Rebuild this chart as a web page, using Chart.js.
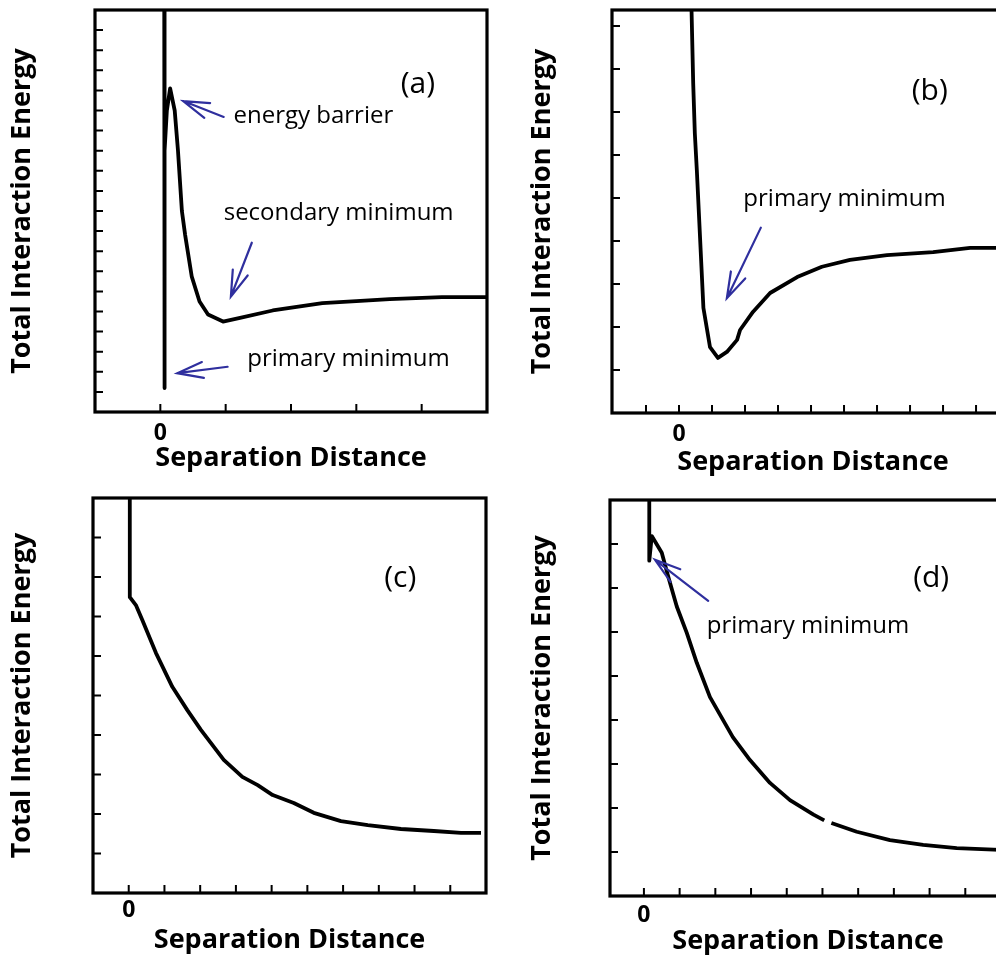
<!DOCTYPE html>
<html>
<head>
<meta charset="utf-8">
<title>Total interaction energy vs separation distance</title>
<script src="https://cdn.jsdelivr.net/npm/chart.js@4.4.1/dist/chart.umd.min.js"></script>
<style>
  html, body { margin: 0; padding: 0; background: #fff; overflow: hidden; }
  #wrap { position: relative; width: 996px; height: 958px; overflow: hidden; background: #fff; }
  #wrap canvas { position: absolute; }
</style>
</head>
<body>
<div id="wrap">
  <canvas id="chart-a" width="500" height="480" style="left:0;top:0"></canvas>
  <canvas id="chart-b" width="500" height="480" style="left:520px;top:0"></canvas>
  <canvas id="chart-c" width="500" height="480" style="left:0;top:480px"></canvas>
  <canvas id="chart-d" width="500" height="480" style="left:520px;top:480px"></canvas>
</div>
<script>
// (a) primary minimum, energy barrier, secondary minimum
const distA   = [0.06, 0.06, 0.07, 0.10, 0.15, 0.22, 0.27, 0.33, 0.38, 0.48, 0.60, 0.73, 0.96, 1.22, 1.72, 2.48, 3.00, 3.51, 4.31, 5.00];
const energyA = [20.6, 1.19, 13.0, 15.0, 16.1, 15.0, 13.0, 10.0, 8.8, 6.75, 5.50, 4.85, 4.50, 4.68, 5.05, 5.42, 5.52, 5.62, 5.72, 5.72];

// (b) deep primary minimum only
const distB   = [0.37, 0.43, 0.48, 0.54, 0.74, 0.94, 1.18, 1.45, 1.76, 1.85, 2.24, 2.76, 3.58, 4.33, 5.18, 6.30, 7.70, 8.82, 9.64, 10.2];
const energyB = [9.7, 7.67, 6.50, 5.65, 2.44, 1.53, 1.28, 1.42, 1.70, 1.93, 2.35, 2.79, 3.16, 3.40, 3.56, 3.67, 3.74, 3.84, 3.84, 3.85];

// (c) purely repulsive
const distC   = [0.03, 0.03, 0.20, 0.38, 0.76, 1.22, 1.64, 2.02, 2.66, 3.18, 3.61, 4.03, 4.62, 5.18, 5.94, 6.69, 7.62, 8.54, 9.30, 9.86];
const energyC = [10.5, 7.49, 7.29, 6.91, 6.08, 5.22, 4.63, 4.13, 3.37, 2.94, 2.73, 2.48, 2.28, 2.03, 1.82, 1.72, 1.62, 1.57, 1.52, 1.52];

// (d) shallow primary minimum then repulsive (small break in the trace)
const distD   = [0.15, 0.15, 0.22, 0.50, 0.68, 0.92, 1.20, 1.48, 1.85, 2.49, 2.97, 3.53, 4.09, 4.75, 5.05, 5.15, 5.25, 5.96, 6.89, 7.82, 8.76, 10.2];
const energyD = [9.5, 7.62, 8.18, 7.80, 7.26, 6.58, 5.98, 5.30, 4.52, 3.61, 3.09, 2.57, 2.18, 1.85, 1.72, null, 1.66, 1.46, 1.27, 1.16, 1.09, 1.04];

// tick positions (only the origin carries a label)
const xTicksA = [0, 1, 2, 3, 4];
const yTicksA = [1, 2, 3, 4, 5, 6, 7, 8, 9, 10, 11, 12, 13, 14, 15, 16, 17, 18, 19];
const xTicksB = [-1, 0, 1, 2, 3, 4, 5, 6, 7, 8, 9, 10];
const yTicksB = [1, 2, 3, 4, 5, 6, 7, 8, 9];
const xTicksC = [0, 1, 2, 3, 4, 5, 6, 7, 8, 9];
const yTicksC = [1, 2, 3, 4, 5, 6, 7, 8, 9];
const xTicksD = [0, 1, 2, 3, 4, 5, 6, 7, 8, 9, 10];
const yTicksD = [1, 2, 3, 4, 5, 6, 7, 8];

const xTitle = 'Separation Distance';
const yTitle = 'Total Interaction Energy';

const FONT = 'Open Sans';
const ARROW_BLUE = '#2f2f9e';

// frame, inward tick marks, arrows and text notes
const panelDecor = {
    id: 'panelDecor',
    afterDatasetsDraw(chart, args, opts) {
        const ctx = chart.ctx;
        const area = chart.chartArea;
        const xs = chart.scales.x;
        const ys = chart.scales.y;
        ctx.save();

        // inward ticks
        ctx.strokeStyle = '#000';
        ctx.lineWidth = 2;
        ctx.beginPath();
        xs.ticks.forEach(t => {
            const px = xs.getPixelForValue(t.value);
            ctx.moveTo(px, area.bottom);
            ctx.lineTo(px, area.bottom - 8);
        });
        ys.ticks.forEach(t => {
            const py = ys.getPixelForValue(t.value);
            ctx.moveTo(area.left, py);
            ctx.lineTo(area.left + 8, py);
        });
        ctx.stroke();

        // box around the plot
        ctx.lineWidth = 3.2;
        ctx.strokeRect(area.left, area.top, area.right - area.left, area.bottom - area.top);

        // arrows with open heads
        ctx.strokeStyle = ARROW_BLUE;
        ctx.lineWidth = 2.2;
        ctx.lineCap = 'round';
        (opts.arrows || []).forEach(a => {
            const x0 = xs.getPixelForValue(a.from[0]), y0 = ys.getPixelForValue(a.from[1]);
            const x1 = xs.getPixelForValue(a.to[0]), y1 = ys.getPixelForValue(a.to[1]);
            const ang = Math.atan2(y0 - y1, x0 - x1);
            const len = 27, spread = 0.3;
            ctx.beginPath();
            ctx.moveTo(x0, y0);
            ctx.lineTo(x1, y1);
            ctx.moveTo(x1 + len * Math.cos(ang - spread), y1 + len * Math.sin(ang - spread));
            ctx.lineTo(x1, y1);
            ctx.lineTo(x1 + len * Math.cos(ang + spread), y1 + len * Math.sin(ang + spread));
            ctx.stroke();
        });

        // text notes
        ctx.fillStyle = '#000';
        ctx.textAlign = 'left';
        ctx.textBaseline = 'alphabetic';
        (opts.notes || []).forEach(n => {
            ctx.font = `${n.size}px "${FONT}"`;
            ctx.fillText(n.text, xs.getPixelForValue(n.at[0]), ys.getPixelForValue(n.at[1]));
        });
        ctx.restore();
    }
};

function makePanel(canvasId, dist, energy, xTicks, yTicks, layout, decor) {
    const points = dist.map((x, i) => ({ x: x, y: energy[i] }));
    return new Chart(document.getElementById(canvasId), {
        type: 'scatter',
        data: {
            datasets: [{
                data: points,
                showLine: true,
                spanGaps: false,
                borderColor: '#000',
                borderWidth: 3.8,
                borderJoinStyle: 'round',
                borderCapStyle: 'butt',
                pointRadius: 0,
                tension: 0
            }]
        },
        options: {
            responsive: false,
            animation: false,
            events: [],
            layout: { padding: { top: layout.top, right: layout.right, left: 0, bottom: 0 } },
            scales: {
                x: {
                    type: 'linear',
                    min: layout.xMin,
                    max: layout.xMax,
                    afterBuildTicks: s => { s.ticks = xTicks.map(v => ({ value: v })); },
                    afterFit: s => { s.height = layout.xHeight; },
                    grid: { display: false, drawTicks: false },
                    border: { display: false },
                    ticks: {
                        autoSkip: false,
                        maxRotation: 0,
                        padding: layout.zeroPad,
                        color: '#000',
                        font: { family: FONT, size: 23, weight: 'bold' },
                        callback: v => (v === 0 ? '0' : '')
                    },
                    title: {
                        display: true,
                        text: xTitle,
                        color: '#000',
                        font: { family: FONT, size: 27, weight: 'bold' },
                        padding: { top: 0, bottom: layout.xTitlePad }
                    }
                },
                y: {
                    type: 'linear',
                    min: layout.yMin,
                    max: layout.yMax,
                    afterBuildTicks: s => { s.ticks = yTicks.map(v => ({ value: v })); },
                    afterFit: s => { s.width = layout.yWidth; },
                    grid: { display: false, drawTicks: false },
                    border: { display: false },
                    ticks: { display: false },
                    title: {
                        display: true,
                        text: yTitle,
                        color: '#000',
                        font: { family: FONT, size: 27, weight: 'bold' },
                        padding: { top: 6.6, bottom: 0 }
                    }
                }
            },
            plugins: {
                legend: { display: false },
                tooltip: { enabled: false },
                panelDecor: decor
            }
        },
        plugins: [panelDecor]
    });
}

makePanel('chart-a', distA, energyA, xTicksA, yTicksA,
    { xMin: -1, xMax: 5, yMin: 0, yMax: 20, top: 10, right: 13, yWidth: 95, xHeight: 68, zeroPad: 8, xTitlePad: 5 },
    {
        notes: [
            { text: '(a)', at: [3.68, 15.87], size: 30 },
            { text: 'energy barrier', at: [1.12, 14.36], size: 24 },
            { text: 'secondary minimum', at: [0.97, 9.55], size: 24 },
            { text: 'primary minimum', at: [1.33, 2.29], size: 24 }
        ],
        arrows: [
            { from: [0.97, 14.68], to: [0.35, 15.47] },
            { from: [1.40, 8.42], to: [1.08, 5.74] },
            { from: [1.03, 2.25], to: [0.26, 1.93] }
        ]
    });

makePanel('chart-b', distB, energyB, xTicksB, yTicksB,
    { xMin: -2.03, xMax: 10.15, yMin: 0, yMax: 9.37, top: 10, right: 6, yWidth: 92, xHeight: 67, zeroPad: 8, xTitlePad: 1 },
    {
        notes: [
            { text: '(b)', at: [7.05, 7.28], size: 30 },
            { text: 'primary minimum', at: [1.95, 4.81], size: 24 }
        ],
        arrows: [
            { from: [2.48, 4.31], to: [1.45, 2.67] }
        ]
    });

makePanel('chart-c', distC, energyC, xTicksC, yTicksC,
    { xMin: -1, xMax: 10, yMin: 0, yMax: 10, top: 18, right: 14, yWidth: 93, xHeight: 67, zeroPad: 4, xTitlePad: 3 },
    {
        notes: [
            { text: '(c)', at: [7.15, 7.75], size: 30 }
        ],
        arrows: []
    });

makePanel('chart-d', distD, energyD, xTicksD, yTicksD,
    { xMin: -0.95, xMax: 10.14, yMin: 0, yMax: 9, top: 20, right: 14, yWidth: 90, xHeight: 64, zeroPad: 6, xTitlePad: 2 },
    {
        notes: [
            { text: '(d)', at: [7.54, 7.03], size: 30 },
            { text: 'primary minimum', at: [1.76, 5.97], size: 24 }
        ],
        arrows: [
            { from: [1.80, 6.71], to: [0.31, 7.64] }
        ]
    });
</script>
</body>
</html>
